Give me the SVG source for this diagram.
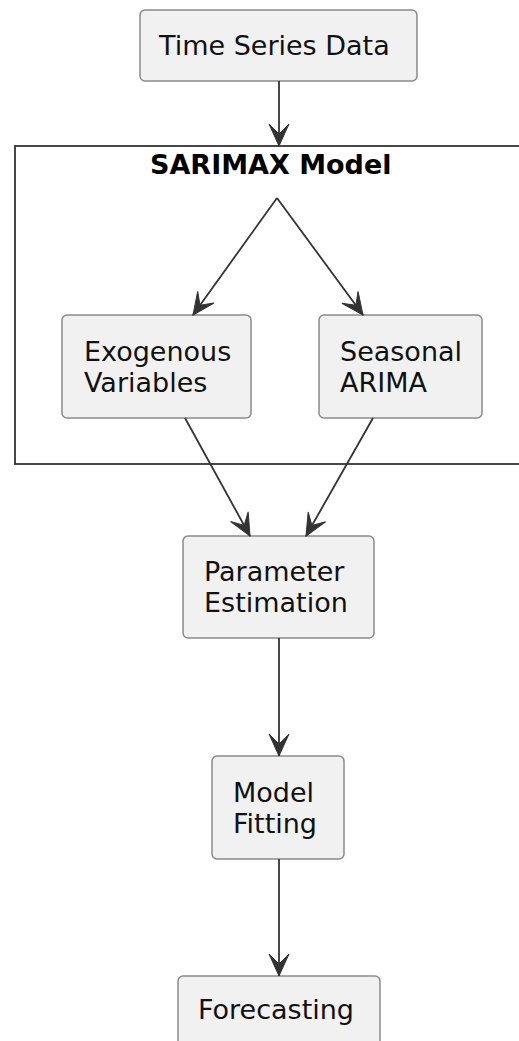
<svg xmlns="http://www.w3.org/2000/svg" width="519" height="1041" viewBox="0 0 519 1041">
<style>
.node rect { fill: #f1f1f1; stroke: #8a8a8a; stroke-width: 1.5; }
.node text { font-family: "DejaVu Sans", sans-serif; font-size: 27px; fill: #111; }
.frame rect { fill: none; stroke: #333; stroke-width: 1.8; }
.frame text { font-family: "DejaVu Sans", sans-serif; font-size: 27px; font-weight: bold; fill: #000; }
.edge { fill: none; stroke: #333; stroke-width: 1.8; }
</style>
<defs>
<marker id="arr" markerUnits="userSpaceOnUse" orient="auto" markerWidth="30" markerHeight="30" viewBox="-25 -15 30 30" refX="0" refY="0">
<path d="M0,0 L-22,-10 L-12,0 L-22,10 Z" fill="#333" stroke="#333" stroke-width="1" stroke-linejoin="miter"/>
</marker>
</defs>
<rect width="519" height="1041" fill="#ffffff"/>
<g id="sarimax-frame" class="frame">
<rect x="15" y="146" width="600" height="318"/>
<text x="150" y="174">SARIMAX Model</text>
</g>
<g id="time-series-data" class="node">
<rect x="140" y="10" width="277" height="71" rx="5"/>
<text x="159" y="55">Time Series Data</text>
</g>
<g id="exogenous-variables" class="node">
<rect x="62" y="315" width="189" height="103" rx="5"/>
<text x="84" y="361">Exogenous</text>
<text x="84" y="392">Variables</text>
</g>
<g id="seasonal-arima" class="node">
<rect x="319" y="315" width="163" height="103" rx="5"/>
<text x="340" y="361">Seasonal</text>
<text x="340" y="392">ARIMA</text>
</g>
<g id="parameter-estimation" class="node">
<rect x="183" y="536" width="191" height="102" rx="5"/>
<text x="204" y="581">Parameter</text>
<text x="204" y="612">Estimation</text>
</g>
<g id="model-fitting" class="node">
<rect x="212" y="756" width="132" height="103" rx="5"/>
<text x="233" y="802">Model</text>
<text x="233" y="833">Fitting</text>
</g>
<g id="forecasting" class="node">
<rect x="178" y="976" width="202" height="75" rx="5"/>
<text x="198" y="1019">Forecasting</text>
</g>
<g id="connectors">
<line class="edge" x1="279" y1="81" x2="279" y2="146" marker-end="url(#arr)"/>
<line class="edge" x1="277" y1="198" x2="193" y2="315" marker-end="url(#arr)"/>
<line class="edge" x1="277" y1="198" x2="363" y2="315" marker-end="url(#arr)"/>
<line class="edge" x1="185" y1="418" x2="250" y2="536" marker-end="url(#arr)"/>
<line class="edge" x1="373" y1="418" x2="306" y2="536" marker-end="url(#arr)"/>
<line class="edge" x1="279" y1="638" x2="279" y2="756" marker-end="url(#arr)"/>
<line class="edge" x1="279" y1="859" x2="279" y2="976" marker-end="url(#arr)"/>
</g>
</svg>
